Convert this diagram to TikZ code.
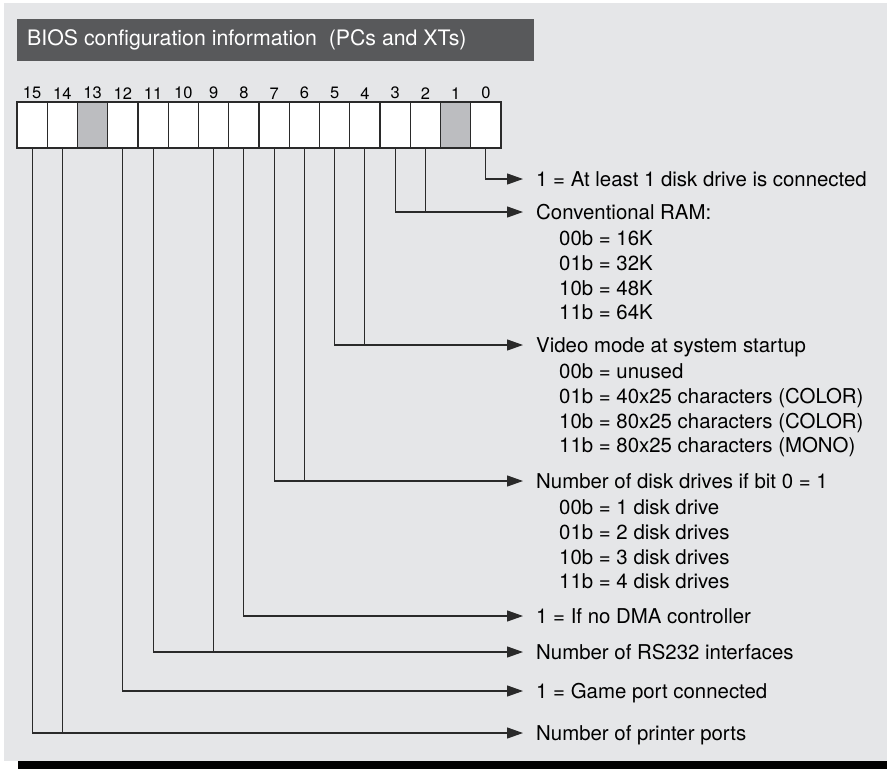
\documentclass[tikz,border=0pt]{standalone}
\usepackage{fontspec}
\setmainfont{TeX Gyre Heros}
\usetikzlibrary{arrows.meta}
\usetikzlibrary{positioning}
\definecolor{bggray}{HTML}{E5E6E8}
\definecolor{bargray}{HTML}{58595B}
\definecolor{cellgray}{HTML}{BCBDC0}
\definecolor{linegray}{HTML}{2A2A2A}

\begin{document}
\begin{tikzpicture}[x=1pt,y=-1pt,inner sep=0pt,
  cell/.style={draw=linegray,line width=1.2pt,minimum width=30.25pt,minimum height=46pt},
  bitnum/.style={font=\fontsize{16.5}{19}\selectfont},
  head/.style={anchor=west,text height=14.6pt,text depth=0pt,font=\fontsize{20.4}{24.6}\selectfont},
  sublist/.style={anchor=north west,align=left,font=\fontsize{20.4}{24.6}\selectfont},
  conn/.style={draw=linegray,line width=1.2pt},
  arr/.style={conn,-{Triangle[length=16pt,width=11pt]},shorten >=13pt}]
\useasboundingbox (0,0) rectangle (887,769);
\fill[bggray] (4,3) rectangle (887,761);
\fill[black] (18,761) rectangle (887,769);
\fill[bargray] (17,19) rectangle (534,61);
\node[anchor=west,text=white,font=\fontsize{21.3}{25}\selectfont] (title) at (27,40) {BIOS configuration information \ (PCs and XTs)};

\foreach \i/\f in {0/white,1/cellgray,2/white,3/white,4/white,5/white,6/white,7/white,
                   8/white,9/white,10/white,11/white,12/white,13/cellgray,14/white,15/white}
{
  \node[cell,fill=\f] (b\i) at ({32.125+(15-\i)*30.25},125) {};
  \node[bitnum,above=2pt of b\i] {\i};
}

\node[head] (dsk) at (536,179) {1 = At least 1 disk drive is connected};
\node[head] (ram) at (536,212) {Conventional RAM:};
\node[sublist,below=11.3pt of ram.south west,anchor=north west,xshift=23pt] (ramv) {00b = 16K\\01b = 32K\\10b = 48K\\11b = 64K};
\node[head] (vid) at (536,345) {Video mode at system startup};
\node[sublist,below=11.3pt of vid.south west,anchor=north west,xshift=23pt] (vidv) {00b = unused\\01b = 40x25 characters (COLOR)\\10b = 80x25 characters (COLOR)\\11b = 80x25 characters (MONO)};
\node[head] (drv) at (536,481) {Number of disk drives if bit 0 = 1};
\node[sublist,below=11.3pt of drv.south west,anchor=north west,xshift=23pt] (drvv) {00b = 1 disk drive\\01b = 2 disk drives\\10b = 3 disk drives\\11b = 4 disk drives};
\node[head] (dma) at (536,616) {1 = If no DMA controller};
\node[head] (rs) at (536,652) {Number of RS232 interfaces};
\node[head] (game) at (536,691) {1 = Game port connected};
\node[head] (prn) at (536,733) {Number of printer ports};

\draw[arr] (b0.south) |- (dsk.west);
\draw[arr] (b3.south) |- (ram.west);
\draw[conn] (b2.south) -- (b2 |- ram.west);
\draw[arr] (b5.south) |- (vid.west);
\draw[conn] (b4.south) -- (b4 |- vid.west);
\draw[arr] (b7.south) |- (drv.west);
\draw[conn] (b6.south) -- (b6 |- drv.west);
\draw[arr] (b8.south) |- (dma.west);
\draw[arr] (b11.south) |- (rs.west);
\draw[conn] (b9.south) -- (b9 |- rs.west);
\draw[arr] (b12.south) |- (game.west);
\draw[arr] (b15.south) |- (prn.west);
\draw[conn] (b14.south) -- (b14 |- prn.west);
\end{tikzpicture}
\end{document}
